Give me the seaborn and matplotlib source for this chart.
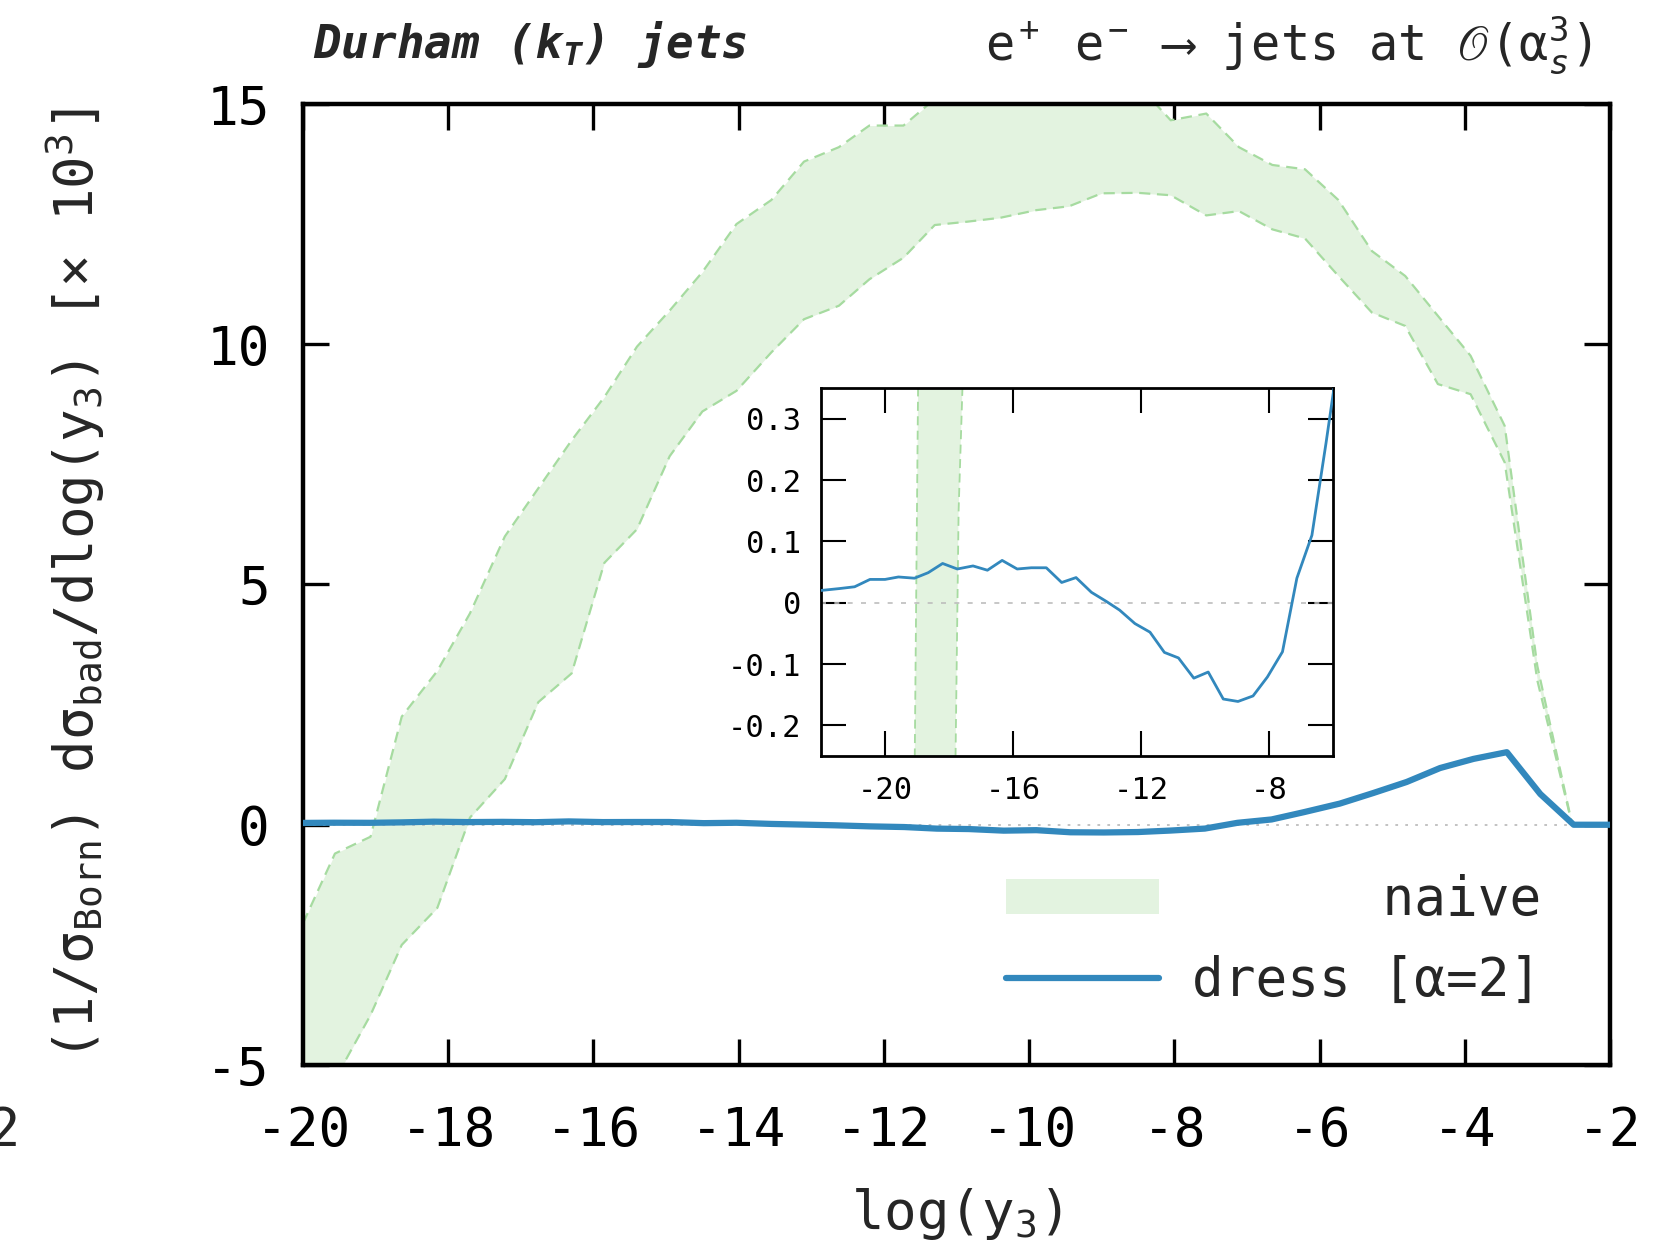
import numpy as np
import pandas as pd
import matplotlib
matplotlib.use("Agg")
import matplotlib.pyplot as plt
import seaborn as sns
from matplotlib.patches import Patch
from matplotlib.lines import Line2D

# ---------------- data ----------------
band_x = [-20.0, -19.56, -19.07, -18.64, -18.15, -17.7, -17.22, -16.76, -16.3, -15.85,
          -15.4, -14.95, -14.5, -14.03, -13.55, -13.1, -12.62, -12.2, -11.73, -11.3,
          -10.85, -10.4, -9.9, -9.45, -9.0, -8.5, -8.05, -7.56, -7.11, -6.65,
          -6.2, -5.74, -5.28, -4.82, -4.37, -3.92, -3.45, -3.0, -2.52, -2.0]
band_upper = [-2.05, -0.6, -0.25, 2.25, 3.2, 4.4, 6.0, 7.0, 8.0, 8.9,
              9.95, 10.7, 11.5, 12.5, 13.0, 13.8, 14.1, 14.55, 14.55, 15.1,
              15.6, 16.0, 16.2, 16.2, 16.0, 15.4, 14.66, 14.8, 14.1, 13.73,
              13.64, 13.0, 11.94, 11.42, 10.59, 9.76, 8.3, 3.3, 0.0, 0.0]
band_lower = [-6.5, -5.3, -3.96, -2.5, -1.73, 0.15, 0.95, 2.55, 3.15, 5.45,
              6.15, 7.67, 8.6, 9.03, 9.83, 10.52, 10.8, 11.35, 11.8, 12.48,
              12.55, 12.63, 12.79, 12.87, 13.14, 13.15, 13.1, 12.68, 12.77, 12.39,
              12.2, 11.42, 10.66, 10.38, 9.17, 8.96, 7.54, 3.0, 0.0, 0.0]

dress_x = [-22.0, -21.44, -20.95, -20.47, -20.0, -19.58, -19.08, -18.65, -18.2, -17.74,
           -17.25, -16.8, -16.34, -15.87, -15.43, -14.96, -14.48, -14.03, -13.55, -13.08,
           -12.67, -12.19, -11.72, -11.27, -10.83, -10.35, -9.9, -9.43, -8.97, -8.5,
           -8.05, -7.58, -7.13, -6.66, -6.22, -5.72, -5.26, -4.80, -4.34, -3.88,
           -3.42, -2.96, -2.50, -2.0]
dress_y = [0.020, 0.023, 0.026, 0.038, 0.038, 0.042, 0.040, 0.049, 0.064, 0.055,
           0.060, 0.053, 0.069, 0.055, 0.057, 0.057, 0.033, 0.041, 0.017, 0.002,
           -0.012, -0.034, -0.048, -0.081, -0.090, -0.123, -0.113, -0.157, -0.161, -0.152,
           -0.121, -0.080, 0.040, 0.110, 0.26, 0.44, 0.66, 0.89, 1.18, 1.37,
           1.51, 0.64, 0.0, 0.0]

main_xticks = [-20, -18, -16, -14, -12, -10, -8, -6, -4, -2]
main_yticks = [-5, 0, 5, 10, 15]
inset_xticks = [-20, -16, -12, -8]
inset_yticks = [-0.2, -0.1, 0.0, 0.1, 0.2, 0.3]
inset_ylabels = ["-0.2", "-0.1", "0", "0.1", "0.2", "0.3"]
inset_xlabels = ["-20", "-16", "-12", "-8"]

legend_labels = ["      naive", "dress [α=2]"]

# ---------------- style ----------------
sns.set_theme(style="ticks")
plt.rcParams.update({
    "font.family": ["DejaVu Sans Mono", "DejaVu Sans"],
    "mathtext.fontset": "custom",
    "mathtext.rm": "DejaVu Sans Mono",
    "mathtext.it": "DejaVu Sans Mono:italic",
    "mathtext.bf": "DejaVu Sans Mono:bold:italic",
    "mathtext.fallback": "stix",
    "axes.unicode_minus": False,
})

FILL = "#e3f3e0"
EDGE = "#a6dba0"
BLUE = "#3288bd"
GREY = "#bdbdbd"

band = pd.DataFrame({"x": band_x, "upper": band_upper, "lower": band_lower})
dress = pd.DataFrame({"x": dress_x, "y": dress_y})

fig = plt.figure(figsize=(16.81, 12.47), dpi=100)
ax = fig.add_axes([0.18025, 0.14595, 0.7775, 0.7707])


def draw(a, lw_blue, lw_edge, zero_ls, zero_lw):
    a.fill_between(band["x"], band["lower"], band["upper"], color=FILL, lw=0, zorder=1)
    sns.lineplot(data=band, x="x", y="upper", ax=a, color=EDGE, linewidth=lw_edge,
                 linestyle=(0, (5, 3)), sort=False, estimator=None, zorder=2)
    sns.lineplot(data=band, x="x", y="lower", ax=a, color=EDGE, linewidth=lw_edge,
                 linestyle=(0, (5, 3)), sort=False, estimator=None, zorder=2)
    a.axhline(0, color=GREY, linestyle=zero_ls, linewidth=zero_lw, zorder=2.5)
    sns.lineplot(data=dress, x="x", y="y", ax=a, color=BLUE, linewidth=lw_blue,
                 sort=False, estimator=None, zorder=3)


draw(ax, 4.5, 1.6, (0, (1.5, 4)), 1.3)
ax.set_xlim(-20, -2)
ax.set_ylim(-5, 15)
ax.set_xticks(main_xticks)
ax.set_yticks(main_yticks)
ax.tick_params(direction="in", length=19, width=2.4, top=True, right=True,
               labelsize=38, colors="black")
ax.tick_params(axis="x", pad=29)
ax.tick_params(axis="y", pad=24)
for s in ax.spines.values():
    s.set_linewidth(3.2)
    s.set_color("black")
ax.set_xlabel(r"log(y$_3$)", fontsize=39)
ax.set_ylabel(r"(1/σ$_\mathrm{Born}$) dσ$_\mathrm{bad}$/dlog(y$_3$) [× 10$^3$]", fontsize=39)
ax.xaxis.set_label_coords(0.5, -0.126)
ax.yaxis.set_label_coords(-0.150, 0.5)

handles = [Patch(facecolor=FILL, edgecolor="none"),
           Line2D([], [], color=BLUE, linewidth=4.5)]
leg = ax.legend(handles, legend_labels, loc="upper left",
                bbox_to_anchor=(1006 / 1681, 1 - 874 / 1247),
                bbox_transform=fig.transFigure, frameon=False, fontsize=38,
                handlelength=2.9, handletextpad=0.62, borderpad=0, borderaxespad=0,
                labelspacing=0.55, handleheight=0.65)

# ---------------- inset ----------------
axi = fig.add_axes([0.4884, 0.3937, 0.3046, 0.2951])
axi.set_facecolor("white")
draw(axi, 2.0, 1.3, (0, (3, 5)), 1.2)
axi.set_xlim(-22, -6)
axi.set_ylim(-0.25, 0.35)
axi.set_xticks(inset_xticks)
axi.set_xticklabels(inset_xlabels)
axi.set_yticks(inset_yticks)
axi.set_yticklabels(inset_ylabels)
axi.tick_params(direction="in", length=18, width=1.5, top=True, right=True,
                labelsize=22, colors="black", pad=14)
axi.set_xlabel("")
axi.set_ylabel("")
for s in axi.spines.values():
    s.set_linewidth(2.0)
    s.set_color("black")

# ---------------- titles ----------------
fig.text(313 / 1681, 1 - 45 / 1247, r"Durham (k$_\mathbf{T}$) jets", fontsize=33,
         fontweight="bold", style="italic", ha="left", va="center")
fig.text(1592 / 1681, 1 - 45 / 1247, r"e$^+$ e$^-$ ⟶ jets at $𝒪$(α$_s^3$)",
         fontsize=35, ha="right", va="center")
# clipped fragment of a tick label at the far left edge
fig.text(21 / 1681, 1 - 1131 / 1247, "-22", fontsize=38, ha="right", va="center")

fig.savefig("out.png", dpi=100)
